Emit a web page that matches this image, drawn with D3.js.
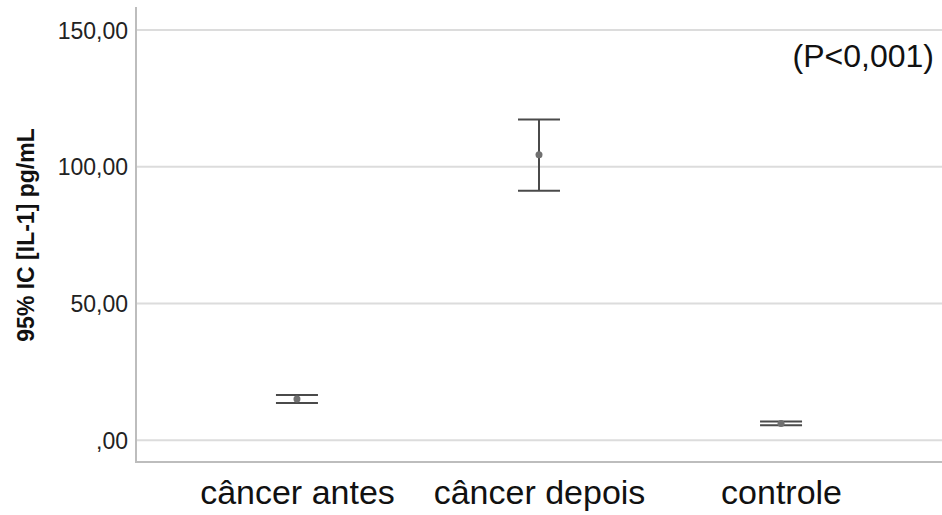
<!DOCTYPE html>
<html>
<head>
<meta charset="utf-8">
<script src="https://d3js.org/d3.v7.min.js"></script>
<style>
  body { margin: 0; background: #fff; }
  svg text { font-family: "Liberation Sans", Arial, sans-serif; }
</style>
</head>
<body>
<svg id="chart" width="942" height="515"></svg>
<script>
// data
var categories = ["câncer antes", "câncer depois", "controle"];
var means = [15.0, 104.4, 6.1];
var lower = [13.6, 91.2, 5.4];
var upper = [16.5, 117.3, 6.8];
var yTicks = [0, 50, 100, 150];
var pLabel = "(P<0,001)";
var yTitle = "95% IC [IL-1] pg/mL";

var svg = d3.select("#chart");
var mLeft = 136, mRight = 942, mTop = 7, mBottom = 462;

var y = d3.scaleLinear().domain([-8, 158.4]).range([mBottom, mTop]);
var x = d3.scalePoint().domain(categories).range([mLeft, mRight]).padding(0.665);

var loc = d3.formatLocale({decimal: ",", thousands: ".", grouping: [3], currency: ["", ""]});
var fmt = function(d) { var s = loc.format(".2f")(d); return s.replace(/^0,/, ","); };

// grid lines
svg.append("g").selectAll("line")
  .data(yTicks)
  .enter().append("line")
  .attr("x1", mLeft).attr("x2", mRight)
  .attr("y1", function(d) { return y(d); })
  .attr("y2", function(d) { return y(d); })
  .attr("stroke", "#dcdcdc")
  .attr("stroke-width", 2);

// y axis labels
var yAxis = svg.append("g")
  .attr("transform", "translate(" + mLeft + ",0)")
  .call(d3.axisLeft(y).tickValues(yTicks).tickSize(0).tickPadding(8).tickFormat(fmt));
yAxis.select(".domain").remove();
yAxis.selectAll("text")
  .attr("font-family", "Liberation Sans, Arial, sans-serif")
  .attr("font-size", 23)
  .attr("fill", "#222")
  .attr("dy", "0.36em");

// frame lines
svg.append("line").attr("x1", mLeft).attr("x2", mLeft).attr("y1", mTop).attr("y2", mBottom)
  .attr("stroke", "#bdbdbd").attr("stroke-width", 2);
svg.append("line").attr("x1", mLeft - 1).attr("x2", mRight).attr("y1", mBottom).attr("y2", mBottom)
  .attr("stroke", "#bdbdbd").attr("stroke-width", 2);

// x axis labels
var xAxis = svg.append("g")
  .attr("transform", "translate(0," + mBottom + ")")
  .call(d3.axisBottom(x).tickSize(0).tickPadding(0));
xAxis.select(".domain").remove();
xAxis.selectAll("text")
  .attr("font-family", "Liberation Sans, Arial, sans-serif")
  .attr("font-size", 34)
  .attr("fill", "#111")
  .attr("dy", null)
  .attr("y", 42);

// error bars
var capW = 21;
var bars = svg.append("g").selectAll("g")
  .data(categories)
  .enter().append("g");
bars.append("line")
  .attr("x1", function(d) { return x(d); })
  .attr("x2", function(d) { return x(d); })
  .attr("y1", function(d, i) { return y(upper[i]); })
  .attr("y2", function(d, i) { return y(lower[i]); })
  .attr("stroke", "#4a4a4a").attr("stroke-width", 2);
bars.append("line")
  .attr("x1", function(d) { return x(d) - capW; })
  .attr("x2", function(d) { return x(d) + capW; })
  .attr("y1", function(d, i) { return y(upper[i]); })
  .attr("y2", function(d, i) { return y(upper[i]); })
  .attr("stroke", "#4a4a4a").attr("stroke-width", 2);
bars.append("line")
  .attr("x1", function(d) { return x(d) - capW; })
  .attr("x2", function(d) { return x(d) + capW; })
  .attr("y1", function(d, i) { return y(lower[i]); })
  .attr("y2", function(d, i) { return y(lower[i]); })
  .attr("stroke", "#4a4a4a").attr("stroke-width", 2);
bars.append("circle")
  .attr("cx", function(d) { return x(d); })
  .attr("cy", function(d, i) { return y(means[i]); })
  .attr("r", 3.5)
  .attr("fill", "#707070");

// y title
svg.append("text")
  .attr("transform", "translate(34,235) rotate(-90)")
  .attr("text-anchor", "middle")
  .attr("font-size", 23)
  .attr("font-weight", "bold")
  .attr("fill", "#111")
  .text(yTitle);

// p value
svg.append("text")
  .attr("x", 934).attr("y", 67)
  .attr("text-anchor", "end")
  .attr("font-size", 32)
  .attr("fill", "#111")
  .text(pLabel);
</script>
</body>
</html>
